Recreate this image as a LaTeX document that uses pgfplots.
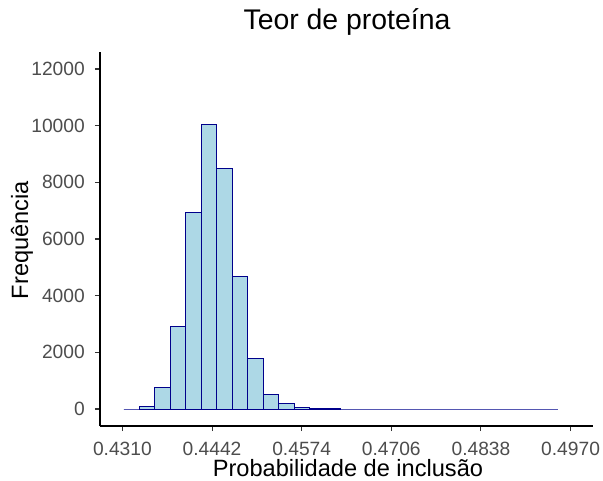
\documentclass[border=0pt]{standalone}
\usepackage{pgfplots}
\pgfplotsset{compat=1.18}
\usepackage{fontspec}
\setmainfont{Liberation Sans}
\definecolor{histfill}{HTML}{ADD8E6}
\definecolor{histedge}{HTML}{00008B}
\definecolor{tickgrey}{HTML}{4D4D4D}
\definecolor{tickmark}{HTML}{333333}
\begin{document}
\begin{tikzpicture}
\useasboundingbox (-75pt,-40.5pt) rectangle (377.25pt,319.5pt);
\begin{axis}[
  at={(0,0)}, anchor=south west,
  scale only axis,
  width=369.75pt, height=280.5pt,
  xmin=0.4277, xmax=0.5003,
  ymin=-600, ymax=12600,
  axis x line*=bottom, axis y line*=left,
  axis line style={line width=1.1pt, black, -},
  xtick={0.4310,0.4442,0.4574,0.4706,0.4838,0.4970},
  ytick={0,2000,4000,6000,8000,10000,12000},
  tick align=outside,
  major tick length=3.75pt,
  tick style={line width=0.8pt, tickmark},
  /pgf/number format/assume math mode=true,
  x tick label style={/pgf/number format/.cd, fixed, fixed zerofill, precision=4, /tikz/.cd},
  y tick label style={/pgf/number format/.cd, fixed, 1000 sep={}, /tikz/.cd},
  xticklabel style={font=\fontsize{14.4}{16}\selectfont, text=tickgrey, anchor=base, inner sep=0pt, yshift=-18pt},
  yticklabel style={font=\fontsize{14.4}{16}\selectfont, text=tickgrey, anchor=east, inner sep=0pt, xshift=-7.5pt},
  scaled x ticks=false, scaled y ticks=false,
  xlabel={Probabilidade de inclusão},
  ylabel={Frequência},
  xlabel style={font=\fontsize{17.7}{20}\selectfont, at={(axis description cs:0.503,-0.1356)}, anchor=base, inner sep=0pt},
  ylabel style={font=\fontsize{17.7}{20}\selectfont, at={(axis description cs:-0.158,0.497)}, anchor=center, inner sep=0pt},
  title={Teor de proteína},
  title style={font=\fontsize{21.3}{24}\selectfont, at={(axis description cs:0.501,1.040)}, anchor=base, inner sep=0pt},
  clip=false,
]
\addplot[ybar interval, fill=histfill, draw=histedge, line width=0.7pt] table[x=x, y=y] {
x y
0.43121 0
0.43349 105
0.43577 750
0.43806 2900
0.44034 6920
0.44262 10030
0.44490 8495
0.44718 4690
0.44947 1770
0.45175 505
0.45403 185
0.45631 70
0.45859 35
0.46088 30
0.46316 0
0.46544 0
0.46772 0
0.47000 0
0.47229 0
0.47457 0
0.47685 0
0.47913 0
0.48141 0
0.48370 0
0.48598 0
0.48826 0
0.49054 0
0.49282 0
0.49511 0
};
\end{axis}
\end{tikzpicture}
\end{document}
